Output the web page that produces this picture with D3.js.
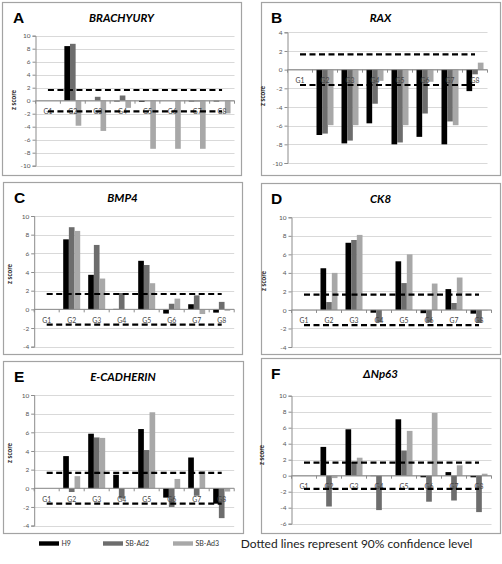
<!DOCTYPE html>
<html><head><meta charset="utf-8">
<script src="https://cdn.jsdelivr.net/npm/d3@7"></script>
<style>body{margin:0;background:#fff}svg{display:block}</style>
</head><body><svg id="chart" width="502" height="564"></svg>
<script>
// ---------------- data ----------------
const categories = ["G1","G2","G3","G4","G5","G6","G7","G8"];
const seriesNames = ["H9","SB-Ad2","SB-Ad3"];
const geneTitles = ["BRACHYURY","RAX","BMP4","CK8","E-CADHERIN","\u0394Np63"];
const panelLetters = ["A","B","C","D","E","F"];

const brachyuryH9  = [0, 8.4, 0, -0.1, -0.15, 0, -0.1, -0.1];
const brachyuryAd2 = [0, 8.75, 0.6, 0.8, 0, 0, -0.1, 0];
const brachyuryAd3 = [0, -3.85, -4.65, -1.1, -7.4, -7.4, -7.4, -1.95];

const raxH9  = [0, -7.0, -7.9, -5.75, -8.0, -7.2, -8.0, -2.3];
const raxAd2 = [0, -6.85, -7.6, -3.65, -7.8, -4.7, -5.55, -0.5];
const raxAd3 = [0, -5.95, -5.95, -1.2, -5.95, -1.3, -5.95, 0.75];

const bmp4H9  = [0, 7.5, 3.7, 0.05, 5.2, -0.45, 0.55, -0.35];
const bmp4Ad2 = [0, 8.8, 6.9, 1.75, 4.75, 0.6, 1.5, 0.8];
const bmp4Ad3 = [0, 8.4, 3.3, -0.05, 2.8, 1.15, -0.5, -0.15];

const ck8H9  = [0, 4.5, 7.25, -0.3, 5.25, -0.35, 2.25, -0.4];
const ck8Ad2 = [0, 0.85, 7.55, -1.35, 2.9, -1.35, 0.75, -1.4];
const ck8Ad3 = [0, 4.0, 8.1, 0, 6.0, 2.85, 3.5, -0.05];

const ecadH9  = [0, 3.45, 5.85, 1.45, 6.35, -1.0, 3.3, -1.65];
const ecadAd2 = [0, -0.4, 5.45, -1.1, 4.1, -2.0, -0.8, -3.2];
const ecadAd3 = [0, 1.3, 5.4, 0, 8.15, 1.0, 1.85, -0.35];

const np63H9  = [0, 3.6, 5.8, -0.05, 7.05, -0.2, 0.45, -0.2];
const np63Ad2 = [0, -3.85, 1.7, -4.3, 3.15, -3.25, -3.1, -4.55];
const np63Ad3 = [0, -0.3, 2.25, 0, 5.6, 7.85, 1.3, 0.25];

const ticksBrachyury = [-10,-8,-6,-4,-2,0,2,4,6,8,10];
const ticksRax  = [-10,-8,-6,-4,-2,0,2,4];
const ticksBmp4 = [-4,-2,0,2,4,6,8,10];
const ticksCk8  = [-4,-2,0,2,4,6,8,10];
const ticksEcad = [-4,-2,0,2,4,6,8,10];
const ticksNp63 = [-6,-4,-2,0,2,4,6,8,10];

const confidenceLevel = 1.645;
const legendNote = "Dotted lines represent 90% confidence level";

// ---------------- layout (positions / styles only) ----------------
const layouts = [
  {box:[2,2,239,173],   left:35.5, right:234.5, top:35.7,  bottom:165.7, zx:16,  zy:100},
  {box:[261,2,239,173], left:287.5,right:487.5, top:32.3,  bottom:163,   zx:265, zy:96},
  {box:[3,182,239,172], left:34.2, right:234.2, top:216,   bottom:346.7, zx:12,  zy:274},
  {box:[261,183,239,171],left:291.5,right:491.5,top:217.3, bottom:347,   zx:266, zy:281},
  {box:[3,361,240,172], left:34.2, right:234.2, top:395,   bottom:525.6, zx:12,  zy:453},
  {box:[261,358,239,175],left:291.5,right:491.5,top:395.7, bottom:523.7, zx:264, zy:455}
];
const panelData = [
  [brachyuryH9, brachyuryAd2, brachyuryAd3, ticksBrachyury],
  [raxH9, raxAd2, raxAd3, ticksRax],
  [bmp4H9, bmp4Ad2, bmp4Ad3, ticksBmp4],
  [ck8H9, ck8Ad2, ck8Ad3, ticksCk8],
  [ecadH9, ecadAd2, ecadAd3, ticksEcad],
  [np63H9, np63Ad2, np63Ad3, ticksNp63]
];
const colors = d3.scaleOrdinal().domain(seriesNames).range(["#000000","#6d6d6d","#a8a8a8"]);
const FONT = "Lato, 'Liberation Sans', sans-serif";

const svg = d3.select("#chart");
svg.append("rect").attr("width",502).attr("height",564).attr("fill","#fff");

panelData.forEach((pd, i) => {
  const L = layouts[i];
  const [s1, s2, s3, ticks] = pd;
  const series = [s1, s2, s3];
  const g = svg.append("g");

  g.append("rect")
    .attr("x", L.box[0]+0.5).attr("y", L.box[1]+0.5)
    .attr("width", L.box[2]).attr("height", L.box[3])
    .attr("fill","#fff").attr("stroke","#a3a3a3").attr("stroke-width",1.2);

  const x0 = d3.scaleBand().domain(categories).range([L.left, L.right]);
  const step = x0.step();
  const groupW = step * 0.68;
  const x1 = d3.scaleBand().domain(seriesNames).range([0, groupW]);
  const y = d3.scaleLinear().domain([ticks[0], ticks[ticks.length-1]]).range([L.bottom, L.top]);

  // gridlines
  g.append("g").selectAll("line").data(ticks).join("line")
    .attr("x1", L.left).attr("x2", L.right)
    .attr("y1", d => Math.round(y(d))+0.5).attr("y2", d => Math.round(y(d))+0.5)
    .attr("stroke","#d9d9d9").attr("stroke-width",1);

  // y axis
  const yAxis = d3.axisLeft(y).tickValues(ticks).tickSize(3).tickPadding(2)
    .tickFormat(d => String(d));
  const ya = g.append("g").attr("transform", `translate(${L.left},0)`).call(yAxis);
  ya.select(".domain").attr("stroke","#8c8c8c");
  ya.selectAll(".tick line").attr("stroke","#8c8c8c");
  ya.selectAll("text").attr("fill","#555").style("font-family",FONT).style("font-size","6.5px");

  // bars
  const bars = [];
  categories.forEach((c, ci) => {
    seriesNames.forEach((s, si) => bars.push({c, s, v: series[si][ci]}));
  });
  g.append("g").selectAll("rect").data(bars).join("rect")
    .attr("x", d => x0(d.c) + (step - groupW)/2 + x1(d.s))
    .attr("width", x1.bandwidth())
    .attr("y", d => y(Math.max(0, d.v)))
    .attr("height", d => Math.abs(y(d.v) - y(0)))
    .attr("fill", d => colors(d.s));

  // category axis at zero
  const zy = y(0);
  g.append("line").attr("x1", L.left).attr("x2", L.right)
    .attr("y1", zy).attr("y2", zy).attr("stroke","#8c8c8c").attr("stroke-width",1);
  const bounds = categories.map(c => x0(c)).concat([L.right]);
  g.append("g").selectAll("line").data(bounds).join("line")
    .attr("x1", d => d).attr("x2", d => d).attr("y1", zy).attr("y2", zy+3)
    .attr("stroke","#8c8c8c");
  g.append("g").selectAll("text").data(categories).join("text")
    .attr("x", c => x0(c) + step/2).attr("y", zy + 13.5)
    .attr("text-anchor","middle").attr("fill","#444")
    .style("font-family",FONT).style("font-size","6.8px").text(c => c);

  // confidence dashed lines
  [confidenceLevel, -confidenceLevel].forEach(v => {
    g.append("line")
      .attr("x1", x0(categories[0]) + step/2)
      .attr("x2", x0(categories[categories.length-1]) + step/2)
      .attr("y1", y(v)).attr("y2", y(v))
      .attr("stroke","#000").attr("stroke-width",2.2)
      .attr("stroke-dasharray","6,3.5");
  });

  // z score label
  g.append("text").attr("transform", `translate(${L.zx},${L.zy}) rotate(-90)`)
    .attr("text-anchor","middle").attr("fill","#222")
    .style("font-family",FONT).style("font-size","6.5px").style("font-weight","bold")
    .text("z score");

  // title
  g.append("text").attr("x", L.box[0] + L.box[2]/2).attr("y", L.box[1] + 20)
    .attr("text-anchor","middle").attr("fill","#000")
    .style("font-family",FONT).style("font-size","11.5px")
    .style("font-style","italic").style("font-weight","bold")
    .text(geneTitles[i]);

  // panel letter
  g.append("text").attr("x", L.box[0] + (i % 2 === 0 ? 11 : 10)).attr("y", L.box[1] + 21)
    .attr("fill","#000")
    .style("font-family","'Liberation Sans', Arial, sans-serif").style("font-size","15.5px")
    .style("font-weight","bold").text(panelLetters[i]);
});

// legend
const legX = [39, 103, 173];
const leg = svg.append("g");
seriesNames.forEach((s, i) => {
  leg.append("rect").attr("x", legX[i]).attr("y", 541.3).attr("width", 20).attr("height", 4.4)
    .attr("fill", colors(s));
  leg.append("text").attr("x", legX[i] + 22.5).attr("y", 546)
    .attr("fill","#333").style("font-family",FONT).style("font-size","7px").text(s);
});
const note = leg.append("text").attr("x", 240.7).attr("y", 548)
  .attr("fill","#222").style("font-family",FONT).style("font-size","11px").text(legendNote);
const w = note.node().getComputedTextLength();
note.style("font-size", (11 * 232 / w).toFixed(2) + "px");
</script></body></html>
